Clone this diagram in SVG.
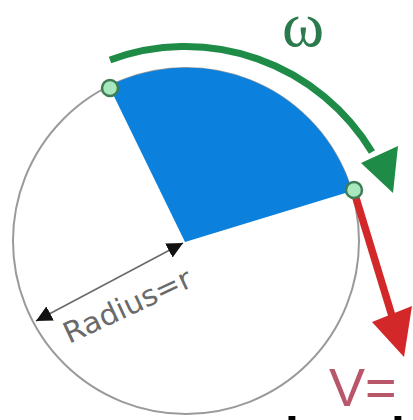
<svg xmlns="http://www.w3.org/2000/svg" width="413" height="420" viewBox="0 0 413 420">
<defs>
<style>
.rim{fill:none;stroke:#9a9a9a;stroke-width:2}
.dot{fill:#a9e7bd;stroke:#3f7d55;stroke-width:2.5}
.rad{stroke:#6a6a6a;stroke-width:1.6;fill:none}
</style>
<marker id="tri" viewBox="0 0 10 10" refX="10" refY="5" markerWidth="16" markerHeight="16" markerUnits="userSpaceOnUse" orient="auto-start-reverse">
<path d="M0,0 L10,5 L0,10 z" fill="#111"/>
</marker>
</defs>
<rect width="413" height="420" fill="#ffffff"/>
<g id="circle">
<circle class="rim" cx="186" cy="241" r="173"/>
</g>
<g id="sector">
<path d="M185,242 L109,86 A173,173 0 0 1 352,191 Z" fill="#0b80dc"/>
</g>
<g id="connectors">
<path d="M110,60 A218,218 0 0 1 372,152" fill="none" stroke="#1e8c47" stroke-width="7"/>
<polygon points="361,163 398,146 393,193" fill="#1e8c47"/>
<line x1="356" y1="198" x2="392" y2="316" stroke="#d2282a" stroke-width="7.5"/>
<polygon points="372,322 412,306 404,357" fill="#d2282a"/>
<line class="rad" x1="36" y1="321" x2="183" y2="243" marker-start="url(#tri)" marker-end="url(#tri)"/>
</g>
<g id="point-left">
<circle class="dot" cx="110" cy="88" r="8"/>
</g>
<g id="point-right">
<circle class="dot" cx="354" cy="190" r="8"/>
</g>
<g id="labels">
<text x="303" y="46" text-anchor="middle" font-family="Liberation Serif, serif" font-size="64" fill="#2b7a4c">ω</text>
<text x="69" y="344" transform="rotate(-25 69 344)" font-family="DejaVu Sans, sans-serif" font-size="29" fill="#6a6a6a" textLength="138" lengthAdjust="spacingAndGlyphs">Radius=r</text>
<text x="329" y="406" font-family="Liberation Sans, sans-serif" font-size="54" fill="#b8566a">V=</text>
<text y="452" font-family="Liberation Sans, sans-serif" font-weight="bold" font-size="50" fill="#000"><tspan x="285">l</tspan><tspan x="391">l</tspan></text>
</g>
</svg>
